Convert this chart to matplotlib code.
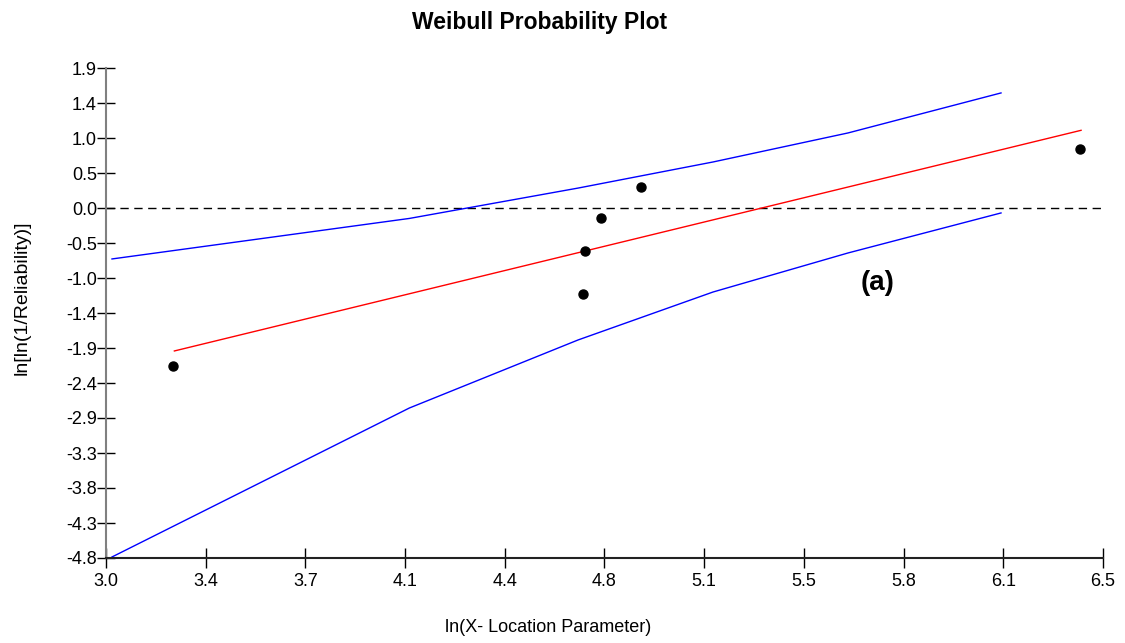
import numpy as np
import matplotlib
matplotlib.use("Agg")
import matplotlib.pyplot as plt

plt.rcParams["font.family"] = ["Liberation Sans", "DejaVu Sans"]

# observed points: ln(x - location), ln(ln(1/R))
obs_x = [3.236, 4.673, 4.682, 4.738, 4.878, 6.419]
obs_y = [-2.157, -1.172, -0.592, -0.141, 0.291, 0.807]

# fitted line
fit_x = [3.240, 6.423]
fit_y = [-1.955, 1.062]

# confidence bounds
bnd_x = [3.021, 4.065, 4.657, 5.131, 5.605, 6.142]
upper_y = [-0.697, -0.143, 0.272, 0.629, 1.026, 1.573]
lower_y = [-4.772, -2.735, -1.805, -1.149, -0.615, -0.068]

XMIN, XMAX = 3.0, 6.5
YMIN, YMAX = -4.786, 1.914
xtick_labels = ["3.0", "3.4", "3.7", "4.1", "4.4", "4.8", "5.1", "5.5", "5.8", "6.1", "6.5"]
ytick_labels = ["-4.8", "-4.3", "-3.8", "-3.3", "-2.9", "-2.4", "-1.9", "-1.4",
                "-1.0", "-0.5", "0.0", "0.5", "1.0", "1.4", "1.9"]

fig = plt.figure(figsize=(11.25, 6.43), dpi=100)
ax = fig.add_axes([106/1125, 85/643, 997/1125, 490/643])

ax.axhline(0, color="black", lw=1.0, dashes=(6, 4))
ax.plot(bnd_x, upper_y, color="#0000ff", lw=1.0)
ax.plot(bnd_x, lower_y, color="#0000ff", lw=1.0)
ax.plot(fit_x, fit_y, color="#ff0000", lw=1.0)
ax.plot(obs_x, obs_y, "o", color="black", ms=6.5, mec="black")

ax.set_xlim(XMIN, XMAX); ax.set_ylim(YMIN, YMAX)
ax.set_xticks(np.linspace(XMIN, XMAX, len(xtick_labels)))
ax.set_xticklabels(xtick_labels, fontsize=13)
ax.set_yticks(np.linspace(YMIN, YMAX, len(ytick_labels)))
ax.set_yticklabels(ytick_labels, fontsize=13)
ax.tick_params(axis="x", direction="inout", length=14, width=1, pad=4)
ax.tick_params(axis="y", direction="inout", length=13, width=1, pad=0)

for s in ("top", "right"): ax.spines[s].set_visible(False)
ax.spines["left"].set_color("#808080"); ax.spines["left"].set_linewidth(1.5)
ax.spines["bottom"].set_color("#222222"); ax.spines["bottom"].set_linewidth(1.5)

fig.text(540/1125, 1 - 22/643, "Weibull Probability Plot", fontsize=16.5, fontweight="bold",
         ha="center", va="center")
fig.text(548/1125, 1 - 628/643, "ln(X- Location Parameter)", fontsize=13, ha="center", va="center")
fig.text(22/1125, 1 - 298/643, "ln[ln(1/Reliability)]", fontsize=14, rotation=90,
         ha="center", va="center")
ax.text(5.71, -1.03, "(a)", fontsize=20, fontweight="bold", ha="center", va="center")

fig.savefig("out.png", dpi=100)
